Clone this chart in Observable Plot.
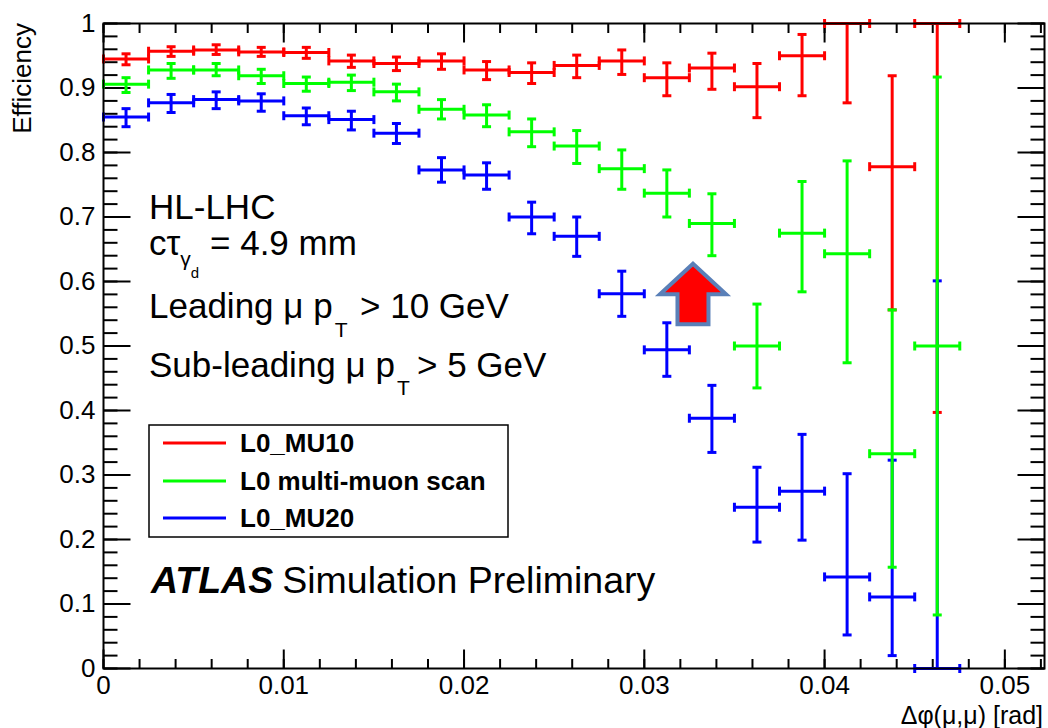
<!DOCTYPE html>
<html><head><meta charset="utf-8">
<script src="https://cdn.jsdelivr.net/npm/d3@7"></script>
<script src="https://cdn.jsdelivr.net/npm/@observablehq/plot@0.6"></script>
<style>
body{margin:0;background:#fff;}
#chart{position:relative;width:1048px;height:728px;overflow:hidden;}
svg text{font-family:"Liberation Sans",Arial,Helvetica,sans-serif;}
</style></head><body><div id="chart"></div>
<script>
// ---- data ----
const binCenters = [0.00125,0.00375,0.00625,0.00875,0.01125,0.01375,0.01625,0.01875,0.02125,0.02375,0.02625,0.02875,0.03125,0.03375,0.03625,0.03875,0.04125,0.04375,0.04625];
const binHalfWidth = 0.00125;
const seriesNames = ["L0_MU10","L0 multi-muon scan","L0_MU20"];
const seriesColors = ["#ff0000","#00ff00","#0000ff"];

const mu10Eff = [0.945,0.957,0.959,0.956,0.955,0.942,0.938,0.942,0.928,0.924,0.935,0.942,0.916,0.931,0.902,0.950,1.000,0.778,1.000];
const mu10Lo  = [0.936,0.949,0.952,0.949,0.946,0.932,0.927,0.929,0.913,0.907,0.916,0.921,0.888,0.898,0.854,0.888,0.877,0.556,0.397];
const mu10Hi  = [0.953,0.964,0.967,0.963,0.963,0.951,0.948,0.953,0.941,0.939,0.951,0.959,0.939,0.954,0.938,0.983,1.000,0.919,1.000];

const multiEff = [0.906,0.928,0.928,0.919,0.907,0.909,0.894,0.867,0.858,0.832,0.810,0.775,0.737,0.690,0.500,0.675,0.643,0.333,0.500];
const multiLo  = [0.893,0.915,0.919,0.907,0.895,0.896,0.880,0.852,0.840,0.809,0.783,0.743,0.700,0.640,0.435,0.584,0.474,0.157,0.083];
const multiHi  = [0.916,0.938,0.938,0.929,0.917,0.920,0.906,0.882,0.874,0.852,0.834,0.804,0.773,0.736,0.565,0.755,0.787,0.556,0.917];

const mu20Eff = [0.855,0.877,0.882,0.880,0.857,0.851,0.830,0.773,0.765,0.700,0.670,0.581,0.494,0.388,0.250,0.275,0.142,0.111,0.000];
const mu20Lo  = [0.840,0.862,0.868,0.864,0.843,0.835,0.814,0.754,0.743,0.674,0.639,0.546,0.453,0.335,0.196,0.199,0.052,0.020,0.000];
const mu20Hi  = [0.868,0.890,0.894,0.891,0.869,0.864,0.845,0.792,0.784,0.723,0.700,0.616,0.536,0.439,0.312,0.363,0.302,0.323,0.601];

const xTickValues = [0,0.01,0.02,0.03,0.04,0.05];
const xTickLabels = ["0","0.01","0.02","0.03","0.04","0.05"];
const yTickValues = [0,0.1,0.2,0.3,0.4,0.5,0.6,0.7,0.8,0.9,1];
const yTickLabels = ["0","0.1","0.2","0.3","0.4","0.5","0.6","0.7","0.8","0.9","1"];
const xDomain = [0, 0.0522];
const yDomain = [0, 1];
const arrowPoint = [{x: 0.0327, y: 0.581}];

// ---- build ----
const rows = (eff, lo, hi) => binCenters.map((c, i) => ({x: c, x1: c - binHalfWidth, x2: c + binHalfWidth, y: eff[i], ylo: lo[i], yhi: hi[i]}));
const series = [
  {name: seriesNames[0], color: seriesColors[0], data: rows(mu10Eff, mu10Lo, mu10Hi)},
  {name: seriesNames[1], color: seriesColors[1], data: rows(multiEff, multiLo, multiHi)},
  {name: seriesNames[2], color: seriesColors[2], data: rows(mu20Eff, mu20Lo, mu20Hi)}
];
const drawOrder = [0, 2, 1];

const lineSymbol = (x0, y0, x1, y1) => ({draw(ctx) { ctx.moveTo(x0, y0); ctx.lineTo(x1, y1); }});
const capV = lineSymbol(0, -4.5, 0, 4.5), capH = lineSymbol(-4.5, 0, 4.5, 0);
const arrowSymbol = {draw(ctx) {
  ctx.moveTo(0, -30); ctx.lineTo(33, 0.5); ctx.lineTo(15.5, 0.5); ctx.lineTo(15.5, 30.5);
  ctx.lineTo(-15.5, 30.5); ctx.lineTo(-15.5, 0.5); ctx.lineTo(-33, 0.5); ctx.closePath();
}};

function seriesMarks(s) {
  const hEnds = s.data.flatMap(d => [{x: d.x1, y: d.y}, {x: d.x2, y: d.y}]);
  const vEnds = s.data.flatMap(d => [{x: d.x, y: d.ylo}, {x: d.x, y: d.yhi}]);
  return [
    Plot.ruleY(s.data, {y: "y", x1: "x1", x2: "x2", stroke: s.color, strokeWidth: 3}),
    Plot.ruleX(s.data, {x: "x", y1: "ylo", y2: "yhi", stroke: s.color, strokeWidth: 3}),
    Plot.dot(hEnds, {x: "x", y: "y", symbol: capV, stroke: s.color, strokeWidth: 3, fill: "none"}),
    Plot.dot(vEnds, {x: "x", y: "y", symbol: capH, stroke: s.color, strokeWidth: 3, fill: "none"})
  ];
}

const xMinor = d3.range(0, 0.0521, 0.002);
const yMinor = d3.range(0, 1.0001, 0.02);
const tk = {
  upMaj: lineSymbol(0, 0, 0, -19), upMin: lineSymbol(0, 0, 0, -9.5),
  dnMaj: lineSymbol(0, 0, 0, 19), dnMin: lineSymbol(0, 0, 0, 9.5),
  rtMaj: lineSymbol(0, 0, 27, 0), rtMin: lineSymbol(0, 0, 14, 0),
  ltMaj: lineSymbol(0, 0, -27, 0), ltMin: lineSymbol(0, 0, -14, 0)
};
const tickDot = (data, xf, yf, sym) => Plot.dot(data, {x: xf, y: yf, symbol: sym, stroke: "black", strokeWidth: 2, fill: "none"});

const plot = Plot.plot({
  width: 1048, height: 728,
  marginLeft: 103, marginRight: 4, marginTop: 23, marginBottom: 60,
  x: {domain: xDomain},
  y: {domain: yDomain},
  style: {fontFamily: '"Liberation Sans", Arial, Helvetica, sans-serif', fontSize: "26px", color: "black", background: "white"},
  marks: [
    tickDot(xMinor, d => d, () => 0, tk.upMin),
    tickDot(xTickValues, d => d, () => 0, tk.upMaj),
    tickDot(xMinor, d => d, () => 1, tk.dnMin),
    tickDot(xTickValues, d => d, () => 1, tk.dnMaj),
    tickDot(yMinor, () => 0, d => d, tk.rtMin),
    tickDot(yTickValues, () => 0, d => d, tk.rtMaj),
    tickDot(yMinor, () => xDomain[1], d => d, tk.ltMin),
    tickDot(yTickValues, () => xDomain[1], d => d, tk.ltMaj),
    Plot.axisX(xTickValues, {anchor: "bottom", tickSize: 0, tickPadding: 7, label: null, fontSize: 26,
      tickFormat: d => xTickLabels[xTickValues.indexOf(d)]}),
    Plot.axisY(yTickValues, {anchor: "left", tickSize: 0, tickPadding: 8, label: null, fontSize: 26,
      tickFormat: d => yTickLabels[yTickValues.indexOf(d)]}),
    ...drawOrder.flatMap(i => seriesMarks(series[i])),
    Plot.dot(arrowPoint, {x: "x", y: "y", symbol: arrowSymbol, fill: "#ff0000", stroke: "#5a80b8", strokeWidth: 4}),
    Plot.frame({stroke: "black", strokeWidth: 2})
  ]
});
document.getElementById("chart").appendChild(plot);

// ---- annotations ----
const svg = d3.select(plot);
const g = svg.append("g").attr("fill", "black").attr("text-anchor", "start");
// axis titles
g.append("text").attr("transform", "translate(31,23) rotate(-90)").attr("text-anchor", "end")
  .attr("font-size", 26).text("Efficiency");
g.append("text").attr("x", 1043).attr("y", 724).attr("text-anchor", "end")
  .attr("font-size", 25).text("Δφ(μ,μ) [rad]");

// physics text
g.append("text").attr("x", 149).attr("y", 219).attr("font-size", 35).text("HL-LHC");
const t2 = g.append("text").attr("font-size", 35);
t2.append("tspan").attr("x", 149).attr("y", 255).text("cτ");
t2.append("tspan").attr("y", 266).attr("font-size", 21).text("γ");
t2.append("tspan").attr("y", 278).attr("font-size", 15).text("d");
t2.append("tspan").attr("x", 210).attr("y", 255).text("= 4.9 mm");
const t3 = g.append("text").attr("font-size", 35);
t3.append("tspan").attr("x", 149).attr("y", 318).text("Leading μ p");
t3.append("tspan").attr("y", 337).attr("dx", 2).attr("font-size", 21).text("T");
t3.append("tspan").attr("x", 360).attr("y", 318).text("> 10 GeV");
const t4 = g.append("text").attr("font-size", 35);
t4.append("tspan").attr("x", 149).attr("y", 377).text("Sub-leading μ p");
t4.append("tspan").attr("y", 395).attr("dx", 2).attr("font-size", 21).text("T");
t4.append("tspan").attr("x", 417).attr("y", 377).text("> 5 GeV");
const t5 = g.append("text").attr("font-size", 37.5).attr("x", 151).attr("y", 593);
t5.append("tspan").attr("font-weight", "bold").attr("font-style", "italic").text("ATLAS");
t5.append("tspan").attr("dx", 9).text("Simulation Preliminary");

// legend
const leg = g.append("g");
leg.append("rect").attr("x", 149).attr("y", 425).attr("width", 359).attr("height", 112)
  .attr("fill", "white").attr("stroke", "black").attr("stroke-width", 1.5);
const legY = [443, 481, 518];
series.forEach((s, i) => {
  leg.append("line").attr("x1", 163).attr("x2", 226).attr("y1", legY[i]).attr("y2", legY[i])
    .attr("stroke", s.color).attr("stroke-width", 3);
  leg.append("text").attr("x", 240).attr("y", legY[i]).attr("dy", "0.36em")
    .attr("font-size", 26).attr("font-weight", "bold").text(s.name);
});
</script></body></html>
